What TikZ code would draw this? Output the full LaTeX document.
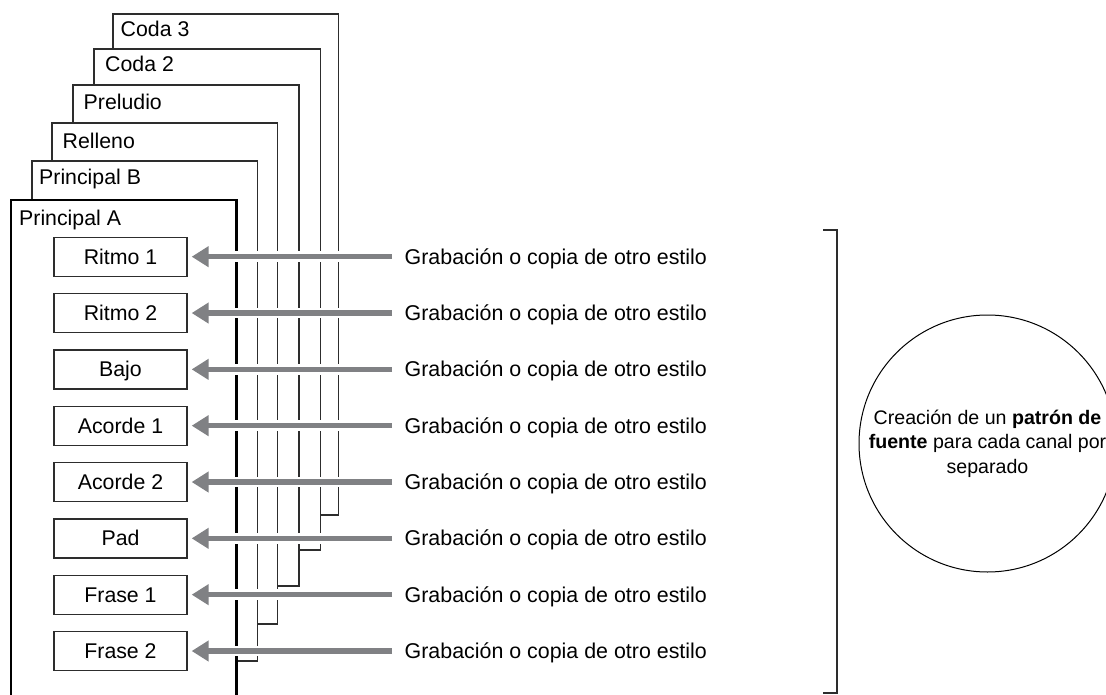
\documentclass[tikz,border=0pt]{standalone}
\usepackage{fontspec}
\setmainfont{Liberation Sans}
\usetikzlibrary{arrows.meta}
\definecolor{arrowgray}{RGB}{128,129,132}
\definecolor{linegray}{RGB}{45,45,45}
\begin{document}
\begin{tikzpicture}[x=1pt,y=-1pt,
  panel/.style={draw=linegray,line width=1.4pt},
  mainpanel/.style={draw=black,line width=2.6pt},
  tablabel/.style={anchor=west,inner sep=0pt,text height=15pt,text depth=0pt,font=\fontsize{21.3}{25}\selectfont},
  partbox/.style={draw=linegray,line width=1.3pt,minimum width=133pt,minimum height=39pt,inner sep=0pt,text height=15pt,text depth=0pt,font=\fontsize{21.3}{25}\selectfont},
  srctext/.style={anchor=west,inner xsep=12.5pt,inner ysep=0pt,text height=15pt,text depth=0pt,font=\fontsize{21.4}{25}\selectfont},
  halo/.style={draw=white,line width=10.5pt},
  feed/.style={draw=arrowgray,line width=5.3pt,-{Triangle[length=17pt,width=20pt]},shorten >=4pt},
  bracketline/.style={draw=linegray,line width=1.3pt},
  sourcecircle/.style={draw=black,circle,line width=1pt,minimum size=257pt,inner sep=0pt,align=center,font=\fontsize{19.6}{24.5}\selectfont}
]
\clip (0,0) rectangle (1106,695);
% stacked panels, back to front
\draw[panel] (113,49) |- (338.3,14) -- (338.3,515) -- (320.5,515);
\draw[panel] (94,85) |- (320.5,49) -- (320.5,550) -- (299,550);
\draw[panel] (73,123) |- (299,85) -- (299,586) -- (277.3,586);
\draw[panel] (52,161) |- (277.3,123) -- (277.3,624) -- (257.3,624);
\draw[panel] (32,200) |- (257.3,161) -- (257.3,661) -- (236.7,661);
\draw[mainpanel] (11,700) |- (236.7,200) -- (236.7,700);
% panel titles
\node[tablabel] (coda3) at (120.5,29) {Coda 3};
\node[tablabel] (coda2) at (105,64.2) {Coda 2};
\node[tablabel] (preludio) at (83.5,102.5) {Preludio};
\node[tablabel] (relleno) at (62.5,140.8) {Relleno};
\node[tablabel] (princb) at (39,176.8) {Principal B};
\node[tablabel] (princa) at (19,218.5) {Principal A};
% channels
\foreach \i/\lab in {1/Ritmo 1,2/Ritmo 2,3/Bajo,4/Acorde 1,5/Acorde 2,6/Pad,7/Frase 1,8/Frase 2}{
  \pgfmathsetmacro{\yy}{256.7+56.33*(\i-1)}
  \node[partbox] (r\i) at (120.5,\yy) {\lab};
  \node[srctext] (g\i) at (392,\yy) {Grabación o copia de otro estilo};
  \draw[halo] (r\i.east -| g\i.west) -- ([xshift=12pt]r\i.east);
  \draw[feed] (r\i.east -| g\i.west) -- (r\i.east);
}
% bracket
\draw[bracketline] (823,230) -- (837,230) -- (837,693) -- (823,693);
% circle
\node[sourcecircle] (src) at (987.5,443.5) {Creación de un \textbf{patrón de}\\\textbf{fuente} para cada canal por\\separado};
\end{tikzpicture}
\end{document}
